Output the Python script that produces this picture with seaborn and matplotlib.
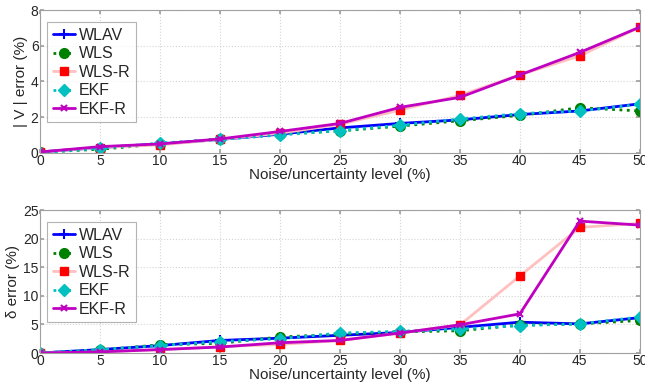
import matplotlib
matplotlib.use("Agg")
import matplotlib.pyplot as plt
import seaborn as sns
import numpy as np

noise = [0, 5, 10, 15, 20, 25, 30, 35, 40, 45, 50]

v_wlav  = [0.05, 0.30, 0.50, 0.75, 1.05, 1.40, 1.65, 1.85, 2.15, 2.35, 2.75]
v_wls   = [0.05, 0.20, 0.50, 0.78, 1.05, 1.23, 1.50, 1.80, 2.10, 2.53, 2.35]
v_wlsr  = [0.05, 0.30, 0.45, 0.75, 1.10, 1.60, 2.40, 3.22, 4.37, 5.44, 7.05]
v_ekf   = [0.00, 0.25, 0.55, 0.75, 1.00, 1.25, 1.55, 1.90, 2.20, 2.35, 2.72]
v_ekfr  = [0.05, 0.35, 0.50, 0.78, 1.20, 1.65, 2.55, 3.11, 4.37, 5.63, 7.05]

d_wlav  = [0.0, 0.6, 1.3, 2.2, 2.6, 3.1, 3.6, 4.5, 5.4, 5.1, 6.2]
d_wls   = [0.0, 0.5, 1.45, 1.7, 2.8, 3.3, 3.7, 3.9, 4.9, 5.1, 5.7]
d_wlsr  = [0.0, 0.2, 0.6, 1.1, 1.5, 2.2, 3.5, 4.9, 13.5, 22.0, 22.7]
d_ekf   = [0.0, 0.6, 1.3, 2.0, 2.5, 3.5, 3.8, 4.2, 4.8, 5.1, 6.3]
d_ekfr  = [0.0, 0.2, 0.6, 1.05, 1.8, 2.2, 3.5, 4.94, 6.86, 23.1, 22.4]

labels = ["WLAV", "WLS", "WLS-R", "EKF", "EKF-R"]

sns.set_theme(style="white")
plt.rcParams['font.family'] = ['Liberation Sans', 'DejaVu Sans']

styles = [
    dict(color="#0000ff", linestyle="-", marker="+", markersize=7, mec="#0000ff", mfc="#0000ff", lw=2, mew=1.5),
    dict(color="#008000", linestyle=":", marker="o", markersize=7, mec="#008000", mfc="#008000", lw=2, mew=1),
    dict(color="#ffc0c0", linestyle="-", marker="s", markersize=6, mec="#ff0000", mfc="#ff0000", lw=2, mew=1),
    dict(color="#00c0c0", linestyle=":", marker="D", markersize=6, mec="#00c0c0", mfc="#00c0c0", lw=2, mew=1),
    dict(color="#c000c0", linestyle="-", marker="x", markersize=5, mec="#c000c0", mfc="#c000c0", lw=2, mew=1.5),
]

fig = plt.figure(figsize=(6.45, 3.89), dpi=100)
ax1 = fig.add_axes([0.062, 0.607, 0.930, 0.367])
ax2 = fig.add_axes([0.062, 0.0925, 0.930, 0.367])

def draw(ax, series, ylim, yticks, ylabel):
    for lab, ys, st in zip(labels, series, styles):
        sns.lineplot(x=noise, y=ys, ax=ax, label=lab, color=st["color"],
                     linestyle=st["linestyle"], marker=st["marker"],
                     markersize=st["markersize"], markeredgecolor=st["mec"],
                     markerfacecolor=st["mfc"], linewidth=st["lw"],
                     markeredgewidth=st["mew"])
    ax.set_xlim(0, 50)
    ax.set_ylim(*ylim)
    ax.set_xticks(noise)
    ax.set_yticks(yticks)
    ax.grid(True, color="#d4d4d4", linestyle=":", linewidth=0.8)
    for s in ax.spines.values():
        s.set_color("#a0a0a0")
        s.set_linewidth(0.8)
    ax.tick_params(direction="in", length=3, color="#a0a0a0", labelsize=10,
                   pad=1, left=True, bottom=True, top=True, right=True,
                   labeltop=False, labelright=False)
    ax.set_xlabel("Noise/uncertainty level (%)", fontsize=11, labelpad=0)
    ax.set_ylabel(ylabel, fontsize=11, labelpad=2)
    leg = ax.legend(loc="upper left", fontsize=11.5, frameon=True, fancybox=False,
                    edgecolor="#a0a0a0", borderpad=0.35, labelspacing=0.22,
                    handlelength=1.4, handletextpad=0.25, borderaxespad=0,
                    bbox_to_anchor=(0.012, 0.916))
    leg.get_frame().set_linewidth(0.8)

draw(ax1, [v_wlav, v_wls, v_wlsr, v_ekf, v_ekfr], (0, 8), [0, 2, 4, 6, 8], "| V | error (%)")
draw(ax2, [d_wlav, d_wls, d_wlsr, d_ekf, d_ekfr], (0, 25), [0, 5, 10, 15, 20, 25], "δ error (%)")

fig.savefig("out.png", dpi=100)
